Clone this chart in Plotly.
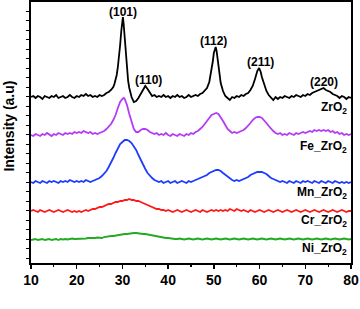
import plotly.graph_objects as go

# (2theta, intensity) pairs; intensity in arbitrary units
zro2 = [(10,166),(10.5,167),(11,165),(11.5,167),(12,166),(12.5,164),(13,167),(13.5,166),(14,165),(14.5,167),
        (15,166),(15.5,168),(16,165),(16.5,166),(17,167),(17.5,165),(18,166),(18.5,168),(19,166),(19.5,165),
        (20,167),(20.5,166),(21,168),(21.5,167),(22,169),(22.5,167),(23,168),(23.5,166),(24,167),(24.5,166),
        (25,168),(25.5,167),(26,168),(26.5,170),(27,171),(27.5,173),(28,176),(28.25,179),(28.5,183),(28.75,188),
        (29,196),(29.25,205),(29.5,218),(29.75,232),(30.0,244),(30.1,246),(30.25,240),(30.5,224),(30.75,206),
        (31,192),(31.25,182),(31.5,175),(31.75,170),(32,166),(32.5,161),(33,162),(33.5,165),(34,169),(34.5,174),
        (35,177),(35.5,174),(36,170),(36.5,167),(37,168),(37.5,166),(38,167),(38.5,166),(39,168),(39.5,166),
        (40,167),(40.5,165),(41,167),(41.5,166),(42,168),(42.5,166),(43,167),(43.5,165),(44,166),(44.5,168),
        (45,166),(45.5,167),(46,168),(46.5,167),(47,169),(47.5,170),(48,172),(48.5,175),(49,181),(49.5,192),
        (49.75,201),(50,210),(50.25,215),(50.4,216),(50.6,212),(50.75,206),(51,196),(51.25,187),(51.5,180),
        (52,172),(52.5,167),(53,165),(53.5,163),(54,166),(54.5,165),(55,167),(55.5,166),(56,168),(56.5,167),
        (57,169),(57.5,170),(58,173),(58.5,177),(59,184),(59.5,192),(59.9,195),(60.25,191),(60.5,186),(61,178),
        (61.5,172),(62,168),(62.5,165),(63,163),(63.5,166),(64,164),(64.5,166),(65,165),(65.5,167),(66,166),
        (66.5,165),(67,167),(67.5,166),(68,168),(68.5,167),(69,166),(69.5,168),(70,167),(70.5,169),(71,168),
        (71.5,170),(72,171),(72.5,172),(73,173),(73.5,174),(74,175),(74.5,173),(75,172),(75.5,171),(76,169),
        (76.5,168),(77,167),(77.5,165),(78,167),(78.5,166),(79,164),(79.5,166),(80,165)]

fe_zro2 = [(10,128),(10.5,127),(11,129),(11.5,128),(12,127),(12.5,129),(13,128),(13.5,130),(14,128),(14.5,127),
           (15,129),(15.5,128),(16,130),(16.5,129),(17,128),(17.5,130),(18,129),(18.5,130),(19,129),(19.5,131),
           (20,130),(20.5,131),(21,130),(21.5,132),(22,131),(22.5,130),(23,131),(23.5,129),(24,130),(24.5,129),
           (25,130),(25.5,131),(26,132),(26.5,134),(27,136),(27.5,139),(28,143),(28.5,148),(29,155),(29.5,161),
           (30,164),(30.3,165),(30.5,164),(31,158),(31.5,149),(32,140),(32.5,134),(33,131),(33.5,131),(34,133),
           (34.5,134),(35,134),(35.5,133),(36,131),(36.5,130),(37,129),(37.5,130),(38,128),(38.5,129),(39,128),
           (39.5,130),(40,128),(40.5,127),(41,129),(41.5,128),(42,127),(42.5,129),(43,128),(43.5,127),(44,129),
           (44.5,128),(45,130),(45.5,129),(46,131),(46.5,132),(47,134),(47.5,136),(48,139),(48.5,142),(49,145),
           (49.5,148),(50,149),(50.5,150),(51,149),(51.5,146),(52,142),(52.5,138),(53,134),(53.5,132),(54,130),
           (54.5,131),(55,130),(55.5,131),(56,132),(56.5,133),(57,135),(57.5,137),(58,140),(58.5,143),(59,145),
           (59.5,146),(60,146),(60.5,145),(61,143),(61.5,140),(62,137),(62.5,134),(63,132),(63.5,130),(64,129),
           (64.5,130),(65,128),(65.5,129),(66,128),(66.5,130),(67,129),(67.5,128),(68,130),(68.5,129),(69,130),
           (69.5,131),(70,130),(70.5,131),(71,132),(71.5,131),(72,133),(72.5,132),(73,133),(73.5,132),(74,133),
           (74.5,132),(75,133),(75.5,131),(76,132),(76.5,130),(77,131),(77.5,129),(78,130),(78.5,128),(79,129),
           (79.5,128),(80,129)]

mn_zro2 = [(10,81),(10.5,80),(11,82),(11.5,81),(12,80),(12.5,82),(13,81),(13.5,80),(14,82),(14.5,81),
           (15,82),(15.5,81),(16,80),(16.5,82),(17,81),(17.5,82),(18,81),(18.5,83),(19,82),(19.5,81),
           (20,82),(20.5,81),(21,82),(21.5,81),(22,83),(22.5,82),(23,81),(23.5,82),(24,83),(24.5,84),
           (25,85),(25.5,87),(26,89),(26.5,92),(27,96),(27.5,100),(28,105),(28.5,110),(29,115),(29.5,119),
           (30,121),(30.5,123),(31,123),(31.5,122),(32,120),(32.5,117),(33,113),(33.5,108),(34,103),(34.5,98),
           (35,94),(35.5,90),(36,87),(36.5,85),(37,83),(37.5,82),(38,81),(38.5,82),(39,80),(39.5,81),
           (40,82),(40.5,80),(41,81),(41.5,82),(42,80),(42.5,81),(43,82),(43.5,81),(44,80),(44.5,82),
           (45,81),(45.5,82),(46,83),(46.5,84),(47,85),(47.5,86),(48,87),(48.5,88),(49,90),(49.5,91),
           (50,92),(50.5,93),(51,93),(51.5,92),(52,90),(52.5,88),(53,86),(53.5,84),(54,83),(54.5,82),
           (55,83),(55.5,82),(56,83),(56.5,84),(57,85),(57.5,86),(58,88),(58.5,89),(59,90),(59.5,91),
           (60,91),(60.5,91),(61,90),(61.5,89),(62,87),(62.5,85),(63,84),(63.5,83),(64,82),(64.5,81),
           (65,82),(65.5,81),(66,80),(66.5,82),(67,81),(67.5,80),(68,82),(68.5,81),(69,80),(69.5,82),
           (70,81),(70.5,82),(71,81),(71.5,80),(72,82),(72.5,81),(73,80),(73.5,82),(74,81),(74.5,80),
           (75,82),(75.5,81),(76,80),(76.5,82),(77,81),(77.5,80),(78,81),(78.5,80),(79,81),(79.5,80),(80,81)]

cr_zro2 = [(10,52),(10.5,53),(11,52),(11.5,51),(12,53),(12.5,52),(13,51),(13.5,52),(14,53),(14.5,52),
           (15,51),(15.5,52),(16,53),(16.5,52),(17,51),(17.5,52),(18,53),(18.5,52),(19,51),(19.5,52),
           (20,51),(20.5,52),(21,51),(21.5,52),(22,53),(22.5,52),(23,53),(23.5,54),(24,54),(24.5,55),
           (25,56),(25.5,56),(26,57),(26.5,58),(27,59),(27.5,59),(28,60),(28.5,61),(29,61),(29.5,62),
           (30,62),(30.5,63),(31,63),(31.5,64),(32,63),(32.5,63),(33,62),(33.5,62),(34,61),(34.5,60),
           (35,59),(35.5,58),(36,57),(36.5,56),(37,55),(37.5,54),(38,54),(38.5,53),(39,53),(39.5,52),
           (40,53),(40.5,52),(41,51),(41.5,52),(42,53),(42.5,52),(43,51),(43.5,52),(44,53),(44.5,52),
           (45,51),(45.5,52),(46,53),(46.5,52),(47,51),(47.5,53),(48,52),(48.5,51),(49,52),(49.5,53),
           (50,52),(50.5,53),(51,52),(51.5,53),(52,52),(52.5,53),(53,52),(53.5,54),(54,53),(54.5,52),
           (55,54),(55.5,53),(56,52),(56.5,53),(57,52),(57.5,51),(58,53),(58.5,52),(59,51),(59.5,52),
           (60,53),(60.5,52),(61,51),(61.5,52),(62,53),(62.5,52),(63,51),(63.5,52),(64,53),(64.5,52),
           (65,51),(65.5,52),(66,53),(66.5,52),(67,51),(67.5,52),(68,53),(68.5,52),(69,51),(69.5,52),
           (70,53),(70.5,52),(71,51),(71.5,52),(72,53),(72.5,52),(73,51),(73.5,52),(74,53),(74.5,52),
           (75,51),(75.5,52),(76,53),(76.5,52),(77,51),(77.5,52),(78,53),(78.5,52),(79,51),(79.5,52),(80,52)]

ni_zro2 = [(10,23),(10.5,23.5),(11,24),(11.5,23),(12,23.5),(12.5,24),(13,23),(13.5,23.5),(14,24),(14.5,23),
           (15,23.5),(15.5,24),(16,23),(16.5,24),(17,23.5),(17.5,24),(18,23.5),(18.5,24),(19,24.5),(19.5,24),
           (20,24),(20.5,24.5),(21,24),(21.5,24.5),(22,24.5),(22.5,25),(23,25),(23.5,24.5),(24,25),(24.5,25.5),
           (25,25.5),(25.5,25),(26,26),(26.5,26.5),(27,26.5),(27.5,27),(28,27),(28.5,27.5),(29,27.5),(29.5,28),
           (30,28.5),(30.5,29),(31,29),(31.5,29.5),(32,29.5),(32.5,30),(33,30),(33.5,29.5),(34,29.5),(34.5,29),
           (35,29),(35.5,28.5),(36,28),(36.5,27.5),(37,27),(37.5,26.5),(38,26),(38.5,26),(39,25.5),(39.5,25),
           (40,25),(40.5,24.5),(41,24.5),(41.5,24),(42,24),(42.5,24.5),(43,24),(43.5,23.5),(44,24),(44.5,24.5),
           (45,24),(45.5,23.5),(46,24),(46.5,24.5),(47,24),(47.5,23.5),(48,24),(48.5,24.5),(49,24),(49.5,23.5),
           (50,24),(50.5,24.5),(51,24),(51.5,23.5),(52,24),(52.5,24.5),(53,24),(53.5,23.5),(54,24),(54.5,24.5),
           (55,24),(55.5,23.5),(56,24),(56.5,24.5),(57,24),(57.5,23.5),(58,24),(58.5,24.5),(59,24),(59.5,23.5),
           (60,24),(60.5,24.5),(61,24),(61.5,23.5),(62,24),(62.5,24.5),(63,24),(63.5,23.5),(64,24),(64.5,24.5),
           (65,24),(65.5,23.5),(66,24),(66.5,24.5),(67,24),(67.5,23.5),(68,24),(68.5,24.5),(69,24),(69.5,23.5),
           (70,24),(70.5,24.5),(71,24),(71.5,23.5),(72,24),(72.5,24.5),(73,24),(73.5,23.5),(74,24),(74.5,24.5),
           (75,24),(75.5,23.5),(76,24),(76.5,24.5),(77,24),(77.5,23.5),(78,24),(78.5,24.5),(79,24),(79.5,23.5),(80,24)]

series_names = ["ZrO<sub>2</sub>", "Fe_ZrO<sub>2</sub>", "Mn_ZrO<sub>2</sub>", "Cr_ZrO<sub>2</sub>", "Ni_ZrO<sub>2</sub>"]
series_data = [zro2, fe_zro2, mn_zro2, cr_zro2, ni_zro2]
series_colors = ["#000000", "#b43cf5", "#1e3cff", "#ff1a1a", "#22aa22"]
label_y = [155, 116, 70, 42, 14]

peak_labels = ["(101)", "(110)", "(112)", "(211)", "(220)"]
peak_x = [30.1, 35.6, 50.0, 60.1, 74.1]
peak_y = [251, 183, 222, 201, 181]

x_ticks = [10, 20, 30, 40, 50, 60, 70, 80]

FONT = "Liberation Sans, Arial, sans-serif"

fig = go.Figure()
for name, data, color in zip(series_names, series_data, series_colors):
    fig.add_trace(go.Scatter(x=[p[0] for p in data], y=[p[1] for p in data], mode="lines",
                             line=dict(color=color, width=1.8), name=name, showlegend=False))

annotations = []
for t, x, y in zip(peak_labels, peak_x, peak_y):
    annotations.append(dict(x=x, y=y, xref="x", yref="y", text="<b>%s</b>" % t, showarrow=False,
                            font=dict(family=FONT, size=12, color="#000"), xanchor="center", yanchor="middle"))
for t, y in zip(series_names, label_y):
    annotations.append(dict(x=79.5, y=y, xref="x", yref="y", text="<b>%s</b>" % t, showarrow=False,
                            font=dict(family=FONT, size=12, color="#000"), xanchor="right", yanchor="middle"))
annotations.append(dict(x=-0.07, y=0.525, xref="paper", yref="paper", text="<b>Intensity (a.u)</b>",
                        textangle=-90, showarrow=False, font=dict(family=FONT, size=14, color="#000"),
                        xanchor="center", yanchor="middle"))
annotations.append(dict(x=0.5, y=-34, xref="paper", yref="y", text="<b>2θ degree</b>", showarrow=False,
                        font=dict(family=FONT, size=14, color="#000"), xanchor="center", yanchor="middle"))

fig.update_layout(
    width=360, height=309,
    margin=dict(l=31, r=9, t=2, b=46, autoexpand=False),
    paper_bgcolor="white", plot_bgcolor="white",
    annotations=annotations,
    xaxis=dict(range=[10, 80], tickvals=x_ticks, ticktext=["<b>%d</b>" % v for v in x_ticks],
               ticks="outside", ticklen=4, tickwidth=1.5, tickcolor="#000",
               minor=dict(dtick=5, tick0=5, ticks="outside", ticklen=2.5, tickwidth=1.2, tickcolor="#000"),
               showline=True, linecolor="#000", linewidth=1.6, mirror=True, showgrid=False, zeroline=False,
               tickfont=dict(family=FONT, size=14, color="#000"), automargin=False),
    yaxis=dict(range=[0, 261], tick0=4.7, dtick=9.5, showticklabels=False,
               ticks="outside", ticklen=3.5, tickwidth=1.3, tickcolor="#000",
               showline=True, linecolor="#000", linewidth=1.6, mirror=True, showgrid=False, zeroline=False,
               automargin=False),
)

fig.write_html("out.html", config={"displayModeBar": False, "staticPlot": True},
               post_script="document.body.style.margin='0';document.body.style.padding='0';"
                           "document.documentElement.style.overflow='hidden';")
